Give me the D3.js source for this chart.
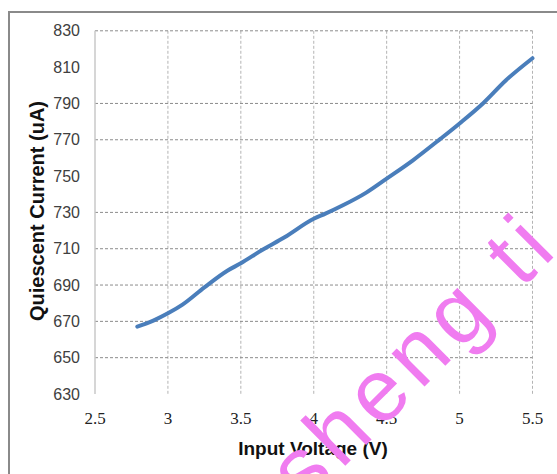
<!DOCTYPE html>
<html>
<head>
<meta charset="utf-8">
<script src="https://cdn.jsdelivr.net/npm/d3@7"></script>
<style>
  body { margin: 0; background: #fff; }
  svg { display: block; }
</style>
</head>
<body>
<svg id="chart" width="557" height="474"></svg>
<script>
// values
const voltage = [2.79, 2.9, 3.0, 3.1, 3.25, 3.41, 3.5, 3.64, 3.8, 4.0, 4.08, 4.2, 4.36, 4.5, 4.68, 4.87, 5.0, 5.16, 5.32, 5.5];
const current = [667.1, 670.4, 674.4, 679.2, 688.7, 698, 702, 709, 716.3, 726.5, 729.3, 733.9, 740.9, 748.6, 758.7, 770.6, 779, 790, 802.9, 814.9];
const xTicks = [2.5, 3, 3.5, 4, 4.5, 5, 5.5];
const yTicks = [630, 650, 670, 690, 710, 730, 750, 770, 790, 810, 830];
const yGrid = [650, 670, 690, 710, 730, 770, 790, 830];

const svg = d3.select("#chart");

// outer frame
svg.append("path")
    .attr("d", "M9,474 L9,12 L557,12")
    .attr("fill", "none")
    .attr("stroke", "#8a8a8a")
    .attr("stroke-width", 2);

const x = d3.scaleLinear().domain([2.5, 5.5]).range([95, 532.5]);
const y = d3.scaleLinear().domain([630, 830]).range([394, 30.8]);

// grid
svg.append("g").selectAll("line").data(xTicks.slice(1))
    .join("line")
    .attr("x1", d => x(d)).attr("x2", d => x(d))
    .attr("y1", y(830)).attr("y2", y(630))
    .attr("stroke", "#b4b4b4")
    .attr("stroke-dasharray", "3,2");

svg.append("g").selectAll("line").data(yGrid)
    .join("line")
    .attr("x1", x(2.5)).attr("x2", x(5.5))
    .attr("y1", d => y(d)).attr("y2", d => y(d))
    .attr("stroke", "#8c8c8c")
    .attr("stroke-dasharray", "3,2");

svg.append("line")
    .attr("x1", x(2.5)).attr("x2", x(2.5))
    .attr("y1", y(830)).attr("y2", y(630))
    .attr("stroke", "#c8c8c8")
    .attr("stroke-width", 1.5);

// tick labels
svg.append("g").selectAll("text").data(yTicks)
    .join("text")
    .attr("x", 80)
    .attr("y", d => y(d) + 5.5)
    .attr("text-anchor", "end")
    .attr("font-family", "Liberation Sans, Arial, sans-serif")
    .attr("font-size", 16)
    .attr("fill", "#404040")
    .text(d => d);

svg.append("g").selectAll("text").data(xTicks)
    .join("text")
    .attr("x", d => x(d))
    .attr("y", 424)
    .attr("text-anchor", "middle")
    .attr("font-family", "Liberation Serif, Times New Roman, serif")
    .attr("font-size", 17)
    .attr("fill", "#222")
    .text(d => d);

// axis titles
svg.append("text")
    .attr("x", 313)
    .attr("y", 455)
    .attr("text-anchor", "middle")
    .attr("font-family", "Liberation Sans, Arial, sans-serif")
    .attr("font-weight", "bold")
    .attr("font-size", 19)
    .attr("fill", "#111")
    .text("Input Voltage (V)");

svg.append("text")
    .attr("transform", "translate(44,211) rotate(-90)")
    .attr("text-anchor", "middle")
    .attr("font-family", "Liberation Sans, Arial, sans-serif")
    .attr("font-weight", "bold")
    .attr("font-size", 20)
    .attr("fill", "#111")
    .text("Quiescent Current (uA)");

// series
const pts = voltage.map((v, i) => [v, current[i]]);
const line = d3.line()
    .x(d => x(d[0]))
    .y(d => y(d[1]))
    .curve(d3.curveMonotoneX);

svg.append("path")
    .datum(pts)
    .attr("d", line)
    .attr("fill", "none")
    .attr("stroke", "#4a7ebb")
    .attr("stroke-width", 4)
    .attr("stroke-linecap", "round");

// watermark
svg.append("text")
    .attr("transform", "translate(305,506) rotate(-45)")
    .attr("font-family", "Liberation Sans, Arial, sans-serif")
    .attr("font-size", 88)
    .attr("letter-spacing", 7)
    .attr("fill", "#f07cf0")
    .text("sheng ti");
</script>
</body>
</html>
